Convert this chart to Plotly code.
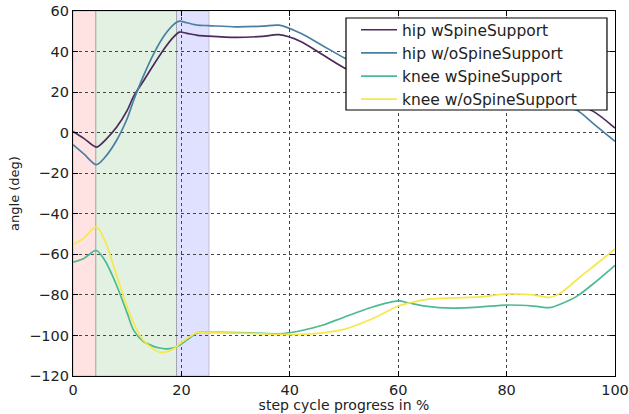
import plotly.graph_objects as go

# ---- data ----
hip_x = [0, 2, 4.3, 6, 8, 10, 11.2, 13, 15, 17, 18.5, 19.6, 21, 23, 25, 30, 35, 38,
         42, 46, 50, 55, 60, 65, 70, 75, 80, 85, 88, 90, 93, 96, 100]
hip_with = [0.6, -2.8, -7.1, -3.5, 2.5, 11.0, 18.0, 25.5, 34.0, 42.0, 47.0, 49.6, 49.0,
            48.0, 47.6, 47.0, 47.5, 48.3, 45.0, 38.5, 32.0, 26.0, 21.5, 18.5, 17.0,
            16.5, 16.0, 15.5, 15.0, 14.5, 13.5, 10.5, 2.3]
hip_without = [-5.9, -10.5, -15.8, -11.8, -4.0, 7.0, 16.0, 28.0, 39.5, 48.5, 53.2, 55.0,
               54.2, 53.0, 52.8, 52.2, 52.5, 53.0, 49.0, 43.0, 37.0, 31.0, 26.0, 22.5,
               20.0, 18.5, 17.5, 16.0, 14.5, 13.5, 11.0, 4.5, -4.3]

knee_x = [0, 2, 4.3, 6, 8, 10, 11.2, 13, 15, 16, 17, 18.5, 19.6, 21, 23, 25, 30, 35, 38,
          42, 46, 50, 55, 60, 62, 65, 70, 75, 80, 85, 88, 90, 93, 96, 100]
knee_with = [-63.9, -62.0, -58.1, -63.5, -75.0, -89.0, -97.5, -103.0, -105.5, -106.2,
             -106.6, -106.2, -104.8, -102.3, -98.6, -98.5, -98.6, -99.0, -99.2, -97.7,
             -95.0, -91.0, -86.2, -83.0, -84.0, -85.5, -86.5, -86.0, -85.0, -85.5,
             -86.3, -84.5, -80.6, -74.5, -65.4]
knee_without = [-55.2, -52.0, -46.5, -54.0, -70.0, -86.0, -94.0, -102.5, -107.0, -108.3,
                -108.2, -106.7, -104.3, -101.5, -98.5, -98.6, -98.8, -99.2, -99.5, -99.5,
                -98.7, -97.0, -92.0, -85.5, -84.0, -82.3, -81.5, -81.0, -79.5, -80.0,
                -81.2, -79.0, -72.4, -66.0, -57.3]

series_names = ["hip wSpineSupport", "hip w/oSpineSupport",
                "knee wSpineSupport", "knee w/oSpineSupport"]
series_colors = ["#4b2a5c", "#4a7fa2", "#4dbb8f", "#f6e84a"]

# phase spans (% of step cycle)
span_edges = [0, 4.2, 19.1, 25.1]
span_colors = ["rgba(255,0,0,0.11)", "rgba(0,128,0,0.11)", "rgba(0,0,255,0.12)"]

x_ticks = [0, 20, 40, 60, 80, 100]
y_ticks = [-120, -100, -80, -60, -40, -20, 0, 20, 40, 60]

fig = go.Figure()
xs = [hip_x, hip_x, knee_x, knee_x]
ys = [hip_with, hip_without, knee_with, knee_without]
for xv, yv, name, col in zip(xs, ys, series_names, series_colors):
    fig.add_trace(go.Scatter(x=xv, y=yv, mode="lines", name=name,
                             line=dict(color=col, width=1.7, shape="spline", smoothing=0.8)))

for i, col in enumerate(span_colors):
    fig.add_shape(type="rect", xref="x", yref="paper",
                  x0=span_edges[i], x1=span_edges[i + 1], y0=0, y1=1,
                  fillcolor=col, line=dict(color="rgba(150,150,150,0.5)", width=1),
                  layer="below")

# legend frame (white box with black border, like matplotlib's legend frame)
fig.add_shape(type="rect", xref="paper", yref="paper",
              x0=0.5037, x1=0.9852, y0=0.7288, y1=0.9808,
              fillcolor="white", line=dict(color="black", width=1.2), layer="above")

axis_common = dict(showline=True, linecolor="black", linewidth=1.2, mirror="ticks",
                   ticks="inside", ticklen=5, tickcolor="black", automargin=False,
                   showgrid=True, gridcolor="#444444", griddash="dot", gridwidth=1,
                   zeroline=False, tickfont=dict(size=14.5, color="#222"))

fig.update_layout(
    width=629, height=414,
    margin=dict(l=73, r=14, t=11, b=38),
    paper_bgcolor="white", plot_bgcolor="rgba(0,0,0,0)",
    font=dict(family="DejaVu Sans", color="#222"),
    xaxis=dict(range=[0, 100], tickvals=x_ticks,
               title=dict(text="step cycle progress in %", font=dict(size=14), standoff=3),
               **axis_common),
    yaxis=dict(range=[-120, 60], tickvals=y_ticks,
               title=dict(text="angle (deg)", font=dict(size=13), standoff=6),
               **axis_common),
    legend=dict(x=(356 - 73) / 542, y=0.994, xanchor="left", yanchor="top",
                bgcolor="rgba(0,0,0,0)", borderwidth=0,
                font=dict(size=15.5), tracegroupgap=0, itemwidth=36),
    showlegend=True,
)

fig.write_html("out.html")
